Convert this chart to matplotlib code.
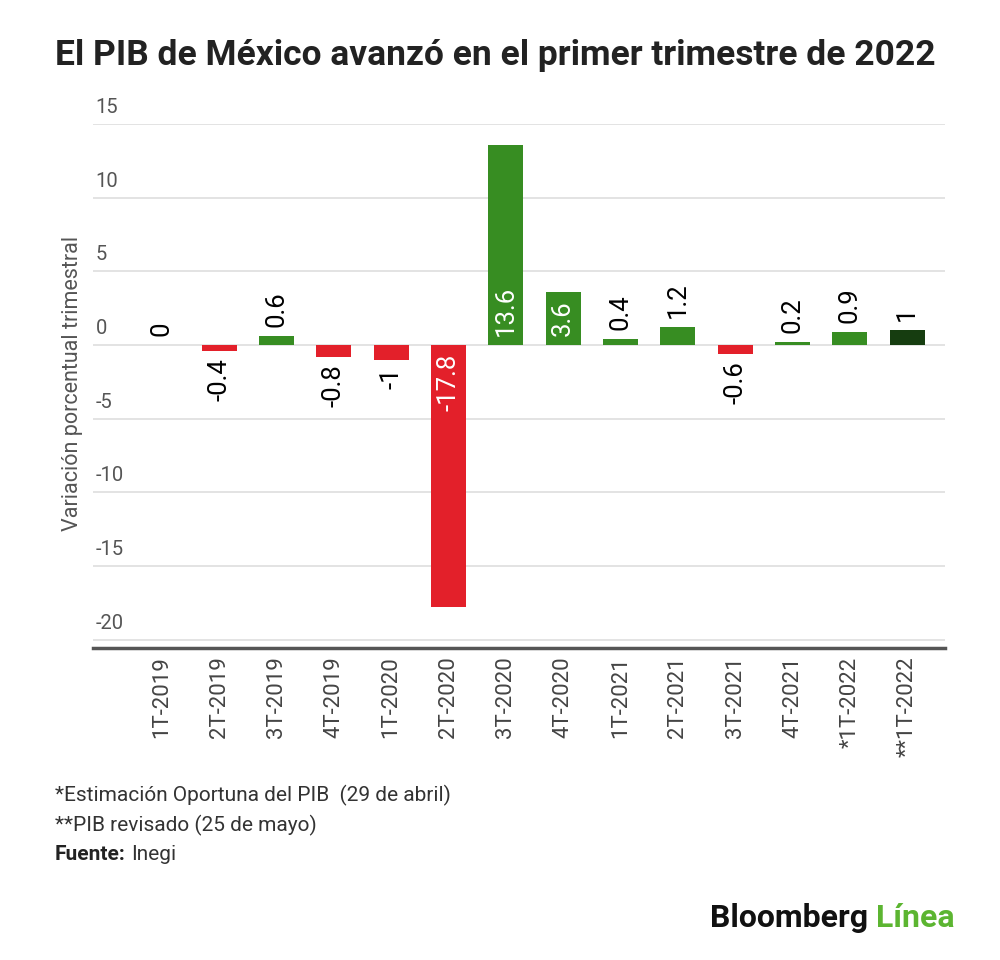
import matplotlib
matplotlib.use('agg')
import matplotlib.pyplot as plt
import numpy as np

# = = = data = = =
quarters = ['1T-2019', '2T-2019', '3T-2019', '4T-2019', '1T-2020', '2T-2020', '3T-2020',
            '4T-2020', '1T-2021', '2T-2021', '3T-2021', '4T-2021', '*1T-2022', '**1T-2022']
values = [0, -0.4, 0.6, -0.8, -1, -17.8, 13.6, 3.6, 0.4, 1.2, -0.6, 0.2, 0.9, 1]
labels = ['0', '-0.4', '0.6', '-0.8', '-1', '-17.8', '13.6', '3.6', '0.4', '1.2', '-0.6', '0.2', '0.9', '1']
y_ticks = [15, 10, 5, 0, -5, -10, -15, -20]
notes = ['*Estimación Oportuna del PIB  (29 de abril)', '**PIB revisado (25 de mayo)']

GREEN = '#378d22'
RED = '#e3202a'
DARK = '#163d10'
GRID = '#dedede'
TXT = '#444444'

plt.rcParams['font.family'] = ['Roboto', 'DejaVu Sans']

fig = plt.figure(figsize=(10, 9.6), dpi=100)
ax = fig.add_axes([0.093, 0.325, 0.852, 0.5458])

x = np.arange(len(values))
colors = [GREEN if v >= 0 else RED for v in values]
colors[-1] = DARK
ax.bar(x, values, width=0.61, color=colors, zorder=3)

ax.set_xlim(-1.2, len(values) - 1 + 0.66)
ax.set_ylim(-20.57, 15)

# grid lines + y labels sitting above them
for t in y_ticks:
    ax.axhline(t, color=GRID, lw=1.2, zorder=1)
    ax.annotate(str(t), xy=(0.003, t), xycoords=ax.get_yaxis_transform(),
                xytext=(0, 5), textcoords='offset points',
                ha='left', va='bottom', fontsize=14.5, color='#555555', annotation_clip=False)

ax.set_yticks([])
ax.set_xticks(x)
ax.set_xticklabels(quarters, rotation=90, fontsize=16, color=TXT)
ax.tick_params(axis='x', length=0, pad=6)
for s in ['top', 'right', 'left']:
    ax.spines[s].set_visible(False)
ax.spines['bottom'].set_color('#555555')
ax.spines['bottom'].set_linewidth(2.5)

ax.set_ylabel('Variación porcentual trimestral', fontsize=15.5, color='#555555')
ax.yaxis.set_label_coords(-0.012, 0.505)

# value labels
for xi, v, lab in zip(x, values, labels):
    big = abs(v) > 3
    if big:
        if v > 0:
            ax.annotate(lab, (xi, 0), xytext=(0, 6.5), textcoords='offset points',
                        rotation=90, ha='center', va='bottom', fontsize=18.5, color='white', zorder=4)
        else:
            ax.annotate(lab, (xi, 0), xytext=(0, -6), textcoords='offset points',
                        rotation=90, ha='center', va='top', fontsize=18.5, color='white', zorder=4)
    elif v >= 0:
        ax.annotate(lab, (xi, v), xytext=(0, 6.5), textcoords='offset points',
                    rotation=90, ha='center', va='bottom', fontsize=18.5, color='black', zorder=4)
    else:
        ax.annotate(lab, (xi, v), xytext=(0, -5.5), textcoords='offset points',
                    rotation=90, ha='center', va='top', fontsize=18.5, color='black', zorder=4)

fig.text(0.055, 0.942, 'El PIB de México avanzó en el primer trimestre de 2022',
         fontsize=25.5, fontweight='bold', color='#222222', ha='left', va='center')

fig.text(0.055, 1 - 795 / 960, notes[0], fontsize=15, color='#333333', va='center')
fig.text(0.055, 1 - 825 / 960, notes[1], fontsize=15, color='#333333', va='center')
t1 = fig.text(0.055, 1 - 855 / 960, 'Fuente:', fontsize=15, color='#222222', va='center',
              fontweight='bold')
fig.canvas.draw()
bb = t1.get_window_extent()
fig.text(bb.x1 / 1000 + 0.005, 1 - 855 / 960, 'Inegi', fontsize=15, color='#333333', va='center')

# logo text
lg = fig.text(0.955, 1 - 918 / 960, 'Línea', fontsize=23, fontweight='bold', color='#5cb531',
              ha='right', va='center')
fig.canvas.draw()
bb2 = lg.get_window_extent()
fig.text(bb2.x0 / 1000 - 0.008, 1 - 918 / 960, 'Bloomberg', fontsize=23, fontweight='bold',
         color='#111111', ha='right', va='center')

fig.savefig('out.png', dpi=100, facecolor='white')
